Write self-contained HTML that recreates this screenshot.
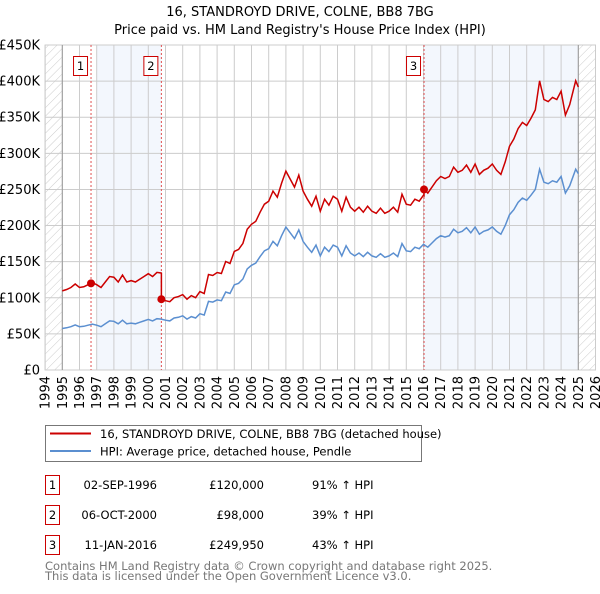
<!DOCTYPE html>
<html><head><meta charset="utf-8"><style>
body{margin:0;background:#fff;width:600px;height:590px;overflow:hidden;font-family:"DejaVu Sans","Liberation Sans",sans-serif;}
svg text{font-family:"DejaVu Sans","Liberation Sans",sans-serif;}
</style></head><body>
<svg id="chart" width="600" height="590" viewBox="0 0 600 590" xmlns="http://www.w3.org/2000/svg">
<defs>
<pattern id="hatch" patternUnits="userSpaceOnUse" width="6" height="6" patternTransform="rotate(45)">
<line x1="0" y1="0" x2="0" y2="6" stroke="#ccc" stroke-width="1"/>
</pattern>
</defs>
<text x="300" y="16" text-anchor="middle" font-size="13">16, STANDROYD DRIVE, COLNE, BB8 7BG</text>
<text x="300" y="34" text-anchor="middle" font-size="13">Price paid vs. HM Land Registry's House Price Index (HPI)</text>
<g id="plot"></g>
<g>
<rect x="45.5" y="425.5" width="376" height="36" fill="#fff" stroke="#777"/>
<line x1="50" y1="433.5" x2="91" y2="433.5" stroke="#cc0000" stroke-width="2"/>
<text x="100" y="438" font-size="11.5">16, STANDROYD DRIVE, COLNE, BB8 7BG (detached house)</text>
<line x1="50" y1="451" x2="91" y2="451" stroke="#5b8fd0" stroke-width="2"/>
<text x="100" y="455.5" font-size="11.5">HPI: Average price, detached house, Pendle</text>
</g>
<g id="table"></g>
<text x="45" y="570" font-size="11.5" fill="#777">Contains HM Land Registry data © Crown copyright and database right 2025.</text>
<text x="45" y="580" font-size="11.5" fill="#777">This data is licensed under the Open Government Licence v3.0.</text>
</svg>
<script>
const yTicks=[0,50000,100000,150000,200000,250000,300000,350000,400000,450000];
const yTickLabels=["£0","£50K","£100K","£150K","£200K","£250K","£300K","£350K","£400K","£450K"];
const xYears=[1994,1995,1996,1997,1998,1999,2000,2001,2002,2003,2004,2005,2006,2007,2008,2009,2010,2011,2012,2013,2014,2015,2016,2017,2018,2019,2020,2021,2022,2023,2024,2025,2026];
const hpiDates=[1995,1995.25,1995.5,1995.75,1996,1996.25,1996.5,1996.75,1997,1997.25,1997.5,1997.75,1998,1998.25,1998.5,1998.75,1999,1999.25,1999.5,1999.75,2000,2000.25,2000.5,2000.75,2001,2001.25,2001.5,2001.75,2002,2002.25,2002.5,2002.75,2003,2003.25,2003.5,2003.75,2004,2004.25,2004.5,2004.75,2005,2005.25,2005.5,2005.75,2006,2006.25,2006.5,2006.75,2007,2007.25,2007.5,2007.75,2008,2008.25,2008.5,2008.75,2009,2009.25,2009.5,2009.75,2010,2010.25,2010.5,2010.75,2011,2011.25,2011.5,2011.75,2012,2012.25,2012.5,2012.75,2013,2013.25,2013.5,2013.75,2014,2014.25,2014.5,2014.75,2015,2015.25,2015.5,2015.75,2016,2016.25,2016.5,2016.75,2017,2017.25,2017.5,2017.75,2018,2018.25,2018.5,2018.75,2019,2019.25,2019.5,2019.75,2020,2020.25,2020.5,2020.75,2021,2021.25,2021.5,2021.75,2022,2022.25,2022.5,2022.75,2023,2023.25,2023.5,2023.75,2024,2024.25,2024.5,2024.85,2025];
const hpiValues=[57500,58500,60000,62500,60000,60500,62000,63500,62000,60000,64000,68000,67500,64000,69000,64000,65000,64000,66000,68000,70000,68000,71000,70500,69000,68000,72000,73000,75000,70500,74000,72000,78000,76000,95000,94000,97000,96000,108000,106000,118000,120000,126000,140000,145000,148000,157000,165000,168000,178000,172000,186000,198000,190000,182000,194000,178000,170000,163000,173000,158000,170000,164000,173000,170000,158000,172000,162000,158000,162000,157000,163000,158000,156000,161000,156000,158000,162000,157000,175000,165000,164000,170000,168000,174000,170000,176000,182000,186000,184000,186000,195000,190000,192000,197000,190000,198000,188000,192000,194000,198000,192000,188000,200000,215000,222000,232000,238000,235000,242000,250000,278000,260000,258000,262000,260000,268000,245000,255000,278000,272000];
const saleLabels=["1","2","3"];
const saleDates=[1996.67,2000.76,2016.03];
const salePrices=[120000,98000,249950];
const saleDateText=["02-SEP-1996","06-OCT-2000","11-JAN-2016"];
const salePriceText=["£120,000","£98,000","£249,950"];
const salePctText=["91% ↑ HPI","39% ↑ HPI","43% ↑ HPI"];

const X0=45.1,X1=595.5,Y0=370,Y1=45;
const x=t=>X0+(t-1994)/(2026-1994)*(X1-X0);
const y=v=>Y0-v/450000*(Y0-Y1);
const NS="http://www.w3.org/2000/svg";
const plot=document.getElementById('plot');
function mk(tag,attrs,parent){const e=document.createElementNS(NS,tag);for(const k in attrs)e.setAttribute(k,attrs[k]);(parent||plot).appendChild(e);return e;}
function hpiAt(t){for(let i=0;i<hpiDates.length-1;i++){if(t>=hpiDates[i]&&t<=hpiDates[i+1]){const f=(t-hpiDates[i])/(hpiDates[i+1]-hpiDates[i]);return hpiValues[i]+f*(hpiValues[i+1]-hpiValues[i]);}}return hpiValues[hpiValues.length-1];}

let s1=mk('rect',{x:x(1997),y:Y1,width:x(saleDates[1])-x(1997),height:Y0-Y1,fill:'#eef3fc',opacity:0.7});


let s2=mk('rect',{x:x(saleDates[2]),y:Y1,width:x(2025)-x(saleDates[2]),height:Y0-Y1,fill:'#eef3fc',opacity:0.7});


let h1=mk('rect',{x:X0,y:Y1,width:x(1995)-X0,height:Y0-Y1,fill:'url(#hatch)'});


let h2=mk('rect',{x:x(2025),y:Y1,width:X1-x(2025),height:Y0-Y1,fill:'url(#hatch)'});


xYears.forEach(yr=>{mk('line',{x1:x(yr),x2:x(yr),y1:Y1,y2:Y0,stroke:'#ccc','stroke-width':1});
 let t=mk('text',{x:0,y:0,'font-size':13,'text-anchor':'end',transform:`translate(${x(yr)+4.5},${Y0+6}) rotate(-90)`});t.textContent=yr;
 
 });
yTicks.forEach((v,i)=>{mk('line',{x1:X0,x2:X1,y1:y(v),y2:y(v),stroke:'#ccc','stroke-width':1});
 let t=mk('text',{x:40,y:y(v)+4.5,'font-size':13,'text-anchor':'end'});t.textContent=yTickLabels[i];
 
 });
mk('rect',{x:X0,y:Y1,width:X1-X0,height:Y0-Y1,fill:'none',stroke:'#ccc'});
mk('line',{x1:x(1995),x2:x(1995),y1:Y1,y2:Y0,stroke:'#999'});
mk('line',{x1:x(2025),x2:x(2025),y1:Y1,y2:Y0,stroke:'#999'});
saleDates.forEach((d,i)=>{let l=mk('line',{x1:x(d),x2:x(d),y1:Y1,y2:Y0,stroke:'#e05050','stroke-dasharray':'2,2','stroke-width':1});
 
 
 let g=mk('g',{});
 
 
 mk('rect',{x:x(d)-17.5,y:56.5,width:14,height:19,fill:'#fff',stroke:'#cc0000'},g);
 let t=mk('text',{x:x(d)-10.5,y:70,'font-size':11.5,'text-anchor':'middle'},g);t.textContent=saleLabels[i];});
let hp=hpiDates.map((d,i)=>x(d).toFixed(1)+','+y(hpiValues[i]).toFixed(1)).join(' ');
let hl=mk('polyline',{points:hp,fill:'none',stroke:'#5b8fd0','stroke-width':1.5});


function segIdx(t){if(t<saleDates[1])return 0;if(t<saleDates[2])return 1;return 2;}
let pts=[];
const allT=hpiDates.concat(saleDates).sort((a,b)=>a-b);
allT.forEach(t=>{const k=segIdx(t);const v=hpiAt(t)*salePrices[k]/hpiAt(saleDates[k]);
 if(saleDates.includes(t)&&k>0){const pk=k-1;pts.push(x(t).toFixed(1)+','+y(hpiAt(t)*salePrices[pk]/hpiAt(saleDates[pk])).toFixed(1));}
 pts.push(x(t).toFixed(1)+','+y(v).toFixed(1));});
let rl=mk('polyline',{points:pts.join(' '),fill:'none',stroke:'#cc0000','stroke-width':1.5});


saleDates.forEach((d,i)=>{let c=mk('circle',{cx:x(d),cy:y(salePrices[i]),r:4,fill:'#cc0000'});
 
 });
const tb=document.getElementById('table');
saleLabels.forEach((lb,i)=>{const ty=475+i*30;
 let g=mk('g',{},tb);
 
 
 mk('rect',{x:45.5,y:ty+0.5,width:14,height:19,fill:'#fff',stroke:'#cc0000'},g);
 let a=mk('text',{x:52.5,y:ty+14,'font-size':11.5,'text-anchor':'middle'},g);a.textContent=lb;
 let b=mk('text',{x:157,y:ty+14,'font-size':11.5,'text-anchor':'end'},g);b.textContent=saleDateText[i];
 let c=mk('text',{x:264,y:ty+14,'font-size':11.5,'text-anchor':'end'},g);c.textContent=salePriceText[i];
 let d=mk('text',{x:312,y:ty+14,'font-size':11.5},g);d.textContent=salePctText[i];});
</script>
</body></html>
